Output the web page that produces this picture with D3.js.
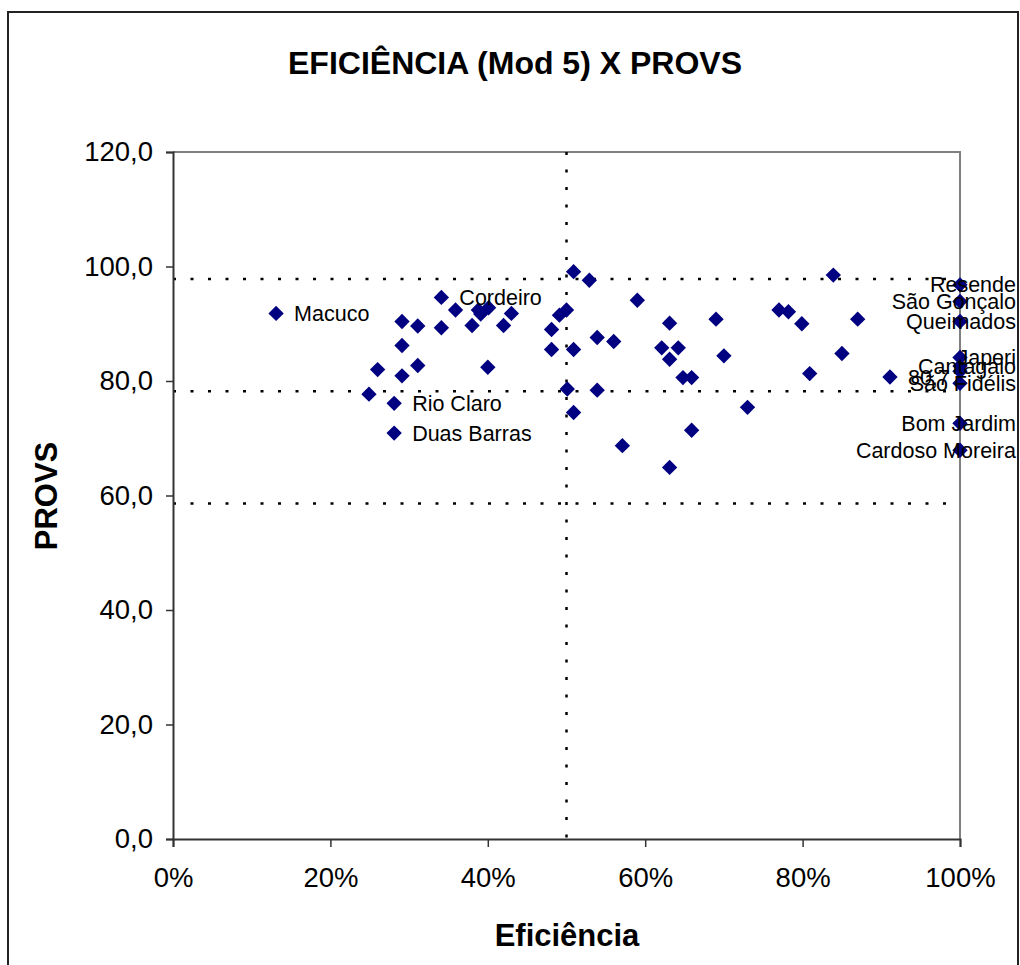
<!DOCTYPE html>
<html>
<head>
<meta charset="utf-8">
<script src="https://cdn.jsdelivr.net/npm/d3@7"></script>
<style>
  html, body { margin: 0; padding: 0; background: #fff; }
  svg { display: block; font-family: "Liberation Sans", Arial, sans-serif; }
</style>
</head>
<body>
<svg id="chart" width="1020" height="965"></svg>
<script>
// Municipality labels (empty string = point without a label)
const names = [
  "Macuco", "Cordeiro", "", "", "", "", "", "", "", "", "", "", "", "", "",
  "", "", "", "", "", "", "", "", "", "", "Rio Claro", "Duas Barras", "", "",
  "", "", "", "", "", "", "", "", "", "", "", "", "", "", "", "", "", "", "",
  "", "", "", "", "80,7",
  "Resende", "São Gonçalo", "Queimados", "Japeri", "Cantagalo", "", "São Fidélis",
  "Bom Jardim", "Cardoso Moreira"
];
// Efficiency (Mod 5), as a fraction
const efficiency = [
  0.131, 0.341, 0.359, 0.388, 0.391, 0.401, 0.430, 0.291, 0.311, 0.341, 0.380, 0.420, 0.481, 0.491, 0.500,
  0.509, 0.529, 0.291, 0.481, 0.509, 0.260, 0.311, 0.291, 0.400, 0.249, 0.281, 0.281, 0.501, 0.509,
  0.539, 0.539, 0.560, 0.590, 0.631, 0.621, 0.642, 0.631, 0.648, 0.659, 0.659, 0.571, 0.631, 0.690, 0.700, 0.730, 0.770, 0.782, 0.799,
  0.809, 0.839, 0.850, 0.870, 0.911,
  1.0, 1.0, 1.0, 1.0, 1.0, 1.0, 1.0,
  1.0, 1.0
];
// PROVS score
const provs = [
  91.8, 94.6, 92.4, 92.4, 91.7, 92.8, 91.8, 90.4, 89.6, 89.3, 89.7, 89.7, 89.0, 91.5, 92.4,
  99.1, 97.6, 86.2, 85.5, 85.5, 82.0, 82.7, 80.9, 82.4, 77.7, 76.1, 70.9, 78.6, 74.5,
  87.6, 78.4, 86.9, 94.1, 90.1, 85.8, 85.8, 83.8, 80.6, 80.6, 71.4, 68.7, 64.9, 90.8, 84.4, 75.4, 92.4, 92.1, 90.0,
  81.3, 98.5, 84.8, 90.8, 80.7,
  96.8, 93.9, 90.4, 84.1, 82.6, 81.7, 79.6,
  72.6, 67.9
];

// Reference lines
const provsRefLines = [97.8, 78.2, 58.6];
const efficiencyRefLines = [0.5];

// Axis ticks
const xTicks = [0, 0.2, 0.4, 0.6, 0.8, 1.0];
const yTicks = [0, 20, 40, 60, 80, 100, 120];

const titleText = "EFICIÊNCIA (Mod 5) X PROVS";
const xTitle = "Eficiência";
const yTitle = "PROVS";

const svg = d3.select("#chart");
const W = 1020, H = 965;
const plot = { left: 173, right: 960, top: 152, bottom: 839 };

// Outer chart frame
svg.append("rect")
  .attr("x", 8).attr("y", 12)
  .attr("width", 1010).attr("height", H)
  .attr("fill", "#fff").attr("stroke", "#222").attr("stroke-width", 2);

const x = d3.scaleLinear().domain([0, 1]).range([plot.left, plot.right]);
const y = d3.scaleLinear().domain([0, 120]).range([plot.bottom, plot.top]);

// Plot area border (top/right in grey)
svg.append("path")
  .attr("d", `M${plot.left},${plot.top}H${plot.right}V${plot.bottom}`)
  .attr("fill", "none").attr("stroke", "#808080").attr("stroke-width", 2);

// Dotted reference lines
svg.append("g").selectAll("line").data(provsRefLines).join("line")
  .attr("x1", plot.left).attr("x2", plot.right)
  .attr("y1", d => y(d)).attr("y2", d => y(d))
  .attr("stroke", "#000").attr("stroke-width", 2.5)
  .attr("stroke-dasharray", "3,14.5");

svg.append("g").selectAll("line").data(efficiencyRefLines).join("line")
  .attr("x1", d => x(d)).attr("x2", d => x(d))
  .attr("y1", plot.top).attr("y2", plot.bottom)
  .attr("stroke", "#000").attr("stroke-width", 2.5)
  .attr("stroke-dasharray", "3,14.5");

// Axes
const fmtY = d => d3.format(".1f")(d).replace(".", ",");
const yAxis = svg.append("g")
  .attr("transform", `translate(${plot.left},0)`)
  .call(d3.axisLeft(y).tickValues(yTicks).tickFormat(fmtY).tickSize(7).tickPadding(13));
const xAxis = svg.append("g")
  .attr("transform", `translate(0,${plot.bottom})`)
  .call(d3.axisBottom(x).tickValues(xTicks).tickFormat(d3.format(".0%")).tickSize(8).tickPadding(20));

[yAxis, xAxis].forEach(g => {
  g.select(".domain").attr("stroke", "#333").attr("stroke-width", 2);
  g.selectAll(".tick line").attr("stroke", "#333").attr("stroke-width", 1.5);
  g.selectAll(".tick text")
    .attr("fill", "#000")
    .style("font-family", "'Liberation Sans', Arial, sans-serif")
    .style("font-size", "27.5px");
});
xAxis.selectAll(".tick text").attr("dy", "0.71em");

// Data points (navy diamonds)
const pts = d3.range(provs.length).map(i => ({
  name: names[i], e: efficiency[i], p: provs[i]
}));

svg.append("g").selectAll("path").data(pts).join("path")
  .attr("transform", d => `translate(${x(d.e)},${y(d.p)})`)
  .attr("d", d3.symbol(d3.symbolDiamond2, 150))
  .attr("fill", "#000080");

// Point labels: to the right of the point, kept inside the chart frame
const labelEdge = 1016;
svg.append("g").selectAll("text").data(pts.filter(d => d.name)).join("text")
  .attr("x", d => x(d.e) + 18)
  .attr("y", d => y(d.p))
  .attr("dy", "0.35em")
  .style("font-size", "21.5px")
  .attr("fill", "#000")
  .text(d => d.name)
  .each(function () {
    const t = d3.select(this);
    const w = this.getComputedTextLength();
    const x0 = +t.attr("x");
    if (x0 + w > labelEdge) t.attr("x", labelEdge - w);
  });

// Titles
svg.append("text")
  .attr("x", 515).attr("y", 74)
  .attr("text-anchor", "middle")
  .style("font-size", "32px").style("font-weight", "bold")
  .text(titleText);

svg.append("text")
  .attr("x", 567).attr("y", 946)
  .attr("text-anchor", "middle")
  .style("font-size", "31px").style("font-weight", "bold")
  .text(xTitle);

svg.append("text")
  .attr("transform", "translate(57,496) rotate(-90)")
  .attr("text-anchor", "middle")
  .style("font-size", "31px").style("font-weight", "bold")
  .text(yTitle);
</script>
</body>
</html>
